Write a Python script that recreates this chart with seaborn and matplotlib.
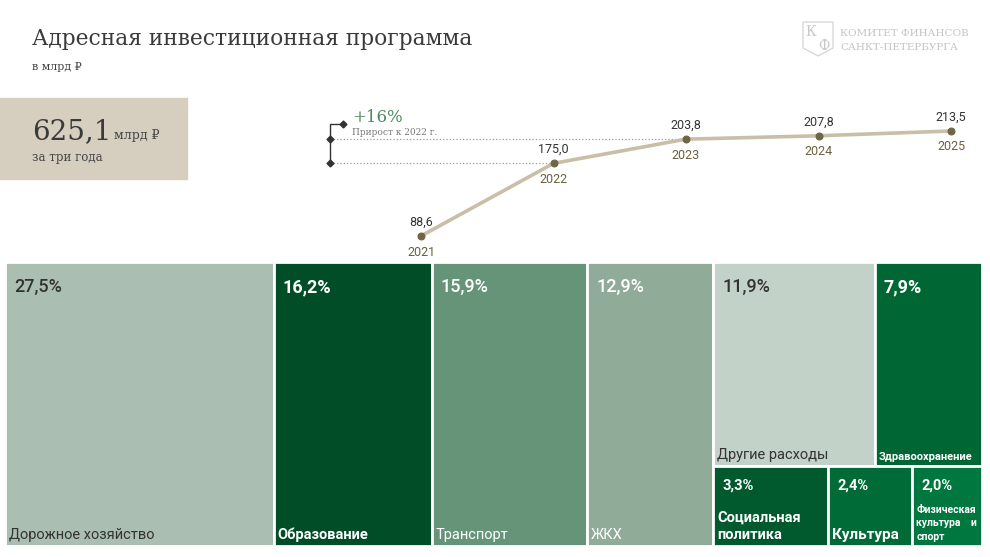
import matplotlib
matplotlib.use("Agg")
import numpy as np
import pandas as pd
import seaborn as sns
import matplotlib.pyplot as plt
from matplotlib.patches import Rectangle, Polygon

# ---------------- data ----------------
years = [2021, 2022, 2023, 2024, 2025]
values = [88.6, 175.0, 203.8, 207.8, 213.5]
value_labels = ["88,6", "175,0", "203,8", "207,8", "213,5"]

sectors = ["Дорожное хозяйство", "Образование", "Транспорт", "ЖКХ",
           "Другие расходы", "Здравоохранение",
           "Социальная\nполитика", "Культура", "Физическая\nкультура    и\nспорт"]
shares = [27.5, 16.2, 15.9, 12.9, 11.9, 7.9, 3.3, 2.4, 2.0]
share_labels = ["27,5%", "16,2%", "15,9%", "12,9%", "11,9%", "7,9%", "3,3%", "2,4%", "2,0%"]
sector_colors = ["#aabfb1", "#004d27", "#669479", "#90ab97", "#c3d2c8",
                 "#006633", "#005a2e", "#006b37", "#00773e"]
text_colors = ["#333333", "white", "white", "white", "#333333",
               "white", "white", "white", "white"]

total_value = "625,1"
base_year_value = 175.0
compare_value = 203.8

W, H = 990, 557
sns.set_theme(style="white")
plt.rcParams["font.family"] = ["Roboto", "DejaVu Sans"]
SERIF = ["DejaVu Serif", "DejaVu Sans"]

fig = plt.figure(figsize=(W / 100, H / 100), dpi=100)
fig.patch.set_facecolor("white")


def px(x, y):
    return x / W, 1 - y / H


# ---------------- header ----------------
fig.text(*px(32, 39), "Адресная инвестиционная программа", family=SERIF,
         fontsize=15.7, color="#3a3a3a", va="center", ha="left")
fig.text(*px(32, 67), "в млрд ₽", family=SERIF, fontsize=8, color="#444444",
         va="center", ha="left")

# logo
lx, ly = 803, 22
shield = Polygon([px(lx, ly), px(lx + 30, ly), px(lx + 30, ly + 26),
                  px(lx + 15, ly + 34), px(lx, ly + 26)], closed=True,
                 transform=fig.transFigure, fill=False, edgecolor="#d0d0d0", lw=0.8)
fig.patches.append(shield)
fig.text(*px(lx + 8, ly + 10), "К", family=SERIF, fontsize=10, color="#c8c8c8",
         ha="center", va="center")
fig.text(*px(lx + 21, ly + 24), "Ф", family=SERIF, fontsize=10, color="#c8c8c8",
         ha="center", va="center")
fig.text(*px(840, 34), "КОМИТЕТ ФИНАНСОВ", family=SERIF, fontsize=7.5,
         color="#c4c4c4", va="center")
fig.text(*px(840, 47), "САНКТ-ПЕТЕРБУРГА", family=SERIF, fontsize=7.5,
         color="#c4c4c4", va="center")

# KPI box
fig.patches.append(Rectangle(px(0, 179), 187 / W, 81 / H, transform=fig.transFigure,
                             color="#d6cfbf", zorder=0))
fig.text(*px(32, 132), total_value, family=SERIF, fontsize=20, color="#3a3a3a",
         va="center", ha="left")
fig.text(*px(114, 136), "млрд ₽", family=SERIF, fontsize=9, color="#444444",
         va="center", ha="left")
fig.text(*px(32, 157), "за три года", family=SERIF, fontsize=8.5, color="#444444",
         va="center", ha="left")

# ---------------- line chart ----------------
x0p, x1p = 421, 951
y0p, y1p = 236, 131
axl = fig.add_axes([x0p / W, 1 - y0p / H, (x1p - x0p) / W, (y0p - y1p) / H])
axl.set_xlim(years[0], years[-1])
axl.set_ylim(values[0], values[-1])
axl.axis("off")

df = pd.DataFrame({"year": years, "value": values})
sns.lineplot(data=df, x="year", y="value", ax=axl, color="#c9bea7", linewidth=2.6,
             marker="o", markersize=5, markerfacecolor="#6f6547",
             markeredgecolor="#6f6547", zorder=3)
for ln in axl.lines:
    ln.set_clip_on(False)

for yr, v, lab in zip(years, values, value_labels):
    axl.annotate(lab, (yr, v), xytext=(0, 14), textcoords="offset pixels",
                 ha="center", va="center", fontsize=9, color="#333333")
    axl.annotate(str(yr), (yr, v), xytext=(0, -16), textcoords="offset pixels",
                 ha="center", va="center", fontsize=9, color="#6b6040")

# bracket annotation
px_per_year = (x1p - x0p) / (years[-1] - years[0])
px_per_unit = (y0p - y1p) / (values[-1] - values[0])
x_br = years[0] + (330 - x0p) / px_per_year
y_top = values[0] + (y0p - 124) / px_per_unit
axl.plot([x_br, years[2]], [compare_value, compare_value], ls=":", color="#9a9a9a",
         lw=0.9, clip_on=False, zorder=1)
axl.plot([x_br, years[1]], [base_year_value, base_year_value], ls=":", color="#9a9a9a",
         lw=0.9, clip_on=False, zorder=1)
axl.plot([x_br, x_br, x_br + 13 / px_per_year], [base_year_value, y_top, y_top],
         color="#333333", lw=1, clip_on=False)
axl.plot([x_br, x_br, x_br + 13 / px_per_year],
         [base_year_value, compare_value, y_top], ls="none", marker="D",
         markersize=3.5, color="#333333", clip_on=False)
growth = (compare_value / base_year_value - 1) * 100
fig.text(*px(352, 117), f"+{growth:.0f}%", family=SERIF, fontsize=12,
         color="#4f8a5c", va="center", ha="left")
fig.text(*px(352, 133), "Прирост к 2022 г.", family=SERIF, fontsize=6.5,
         color="#777777", va="center", ha="left")

# ---------------- treemap ----------------
axt = fig.add_axes([5 / W, 1 - 546 / H, 977 / W, 284 / H])
axt.set_xlim(0, 100)
axt.set_ylim(0, 100)
axt.axis("off")

lefts, bottoms, widths, heights = [], [], [], []
x = 0.0
for s in shares[:4]:
    lefts.append(x); bottoms.append(0); widths.append(s); heights.append(100)
    x += s
col_w = sum(shares[4:])
top_sum = sum(shares[4:6])
bot_sum = sum(shares[6:])
top_h = top_sum / col_w * 100
xx = x
for s in shares[4:6]:
    w = s / top_sum * col_w
    lefts.append(xx); bottoms.append(100 - top_h); widths.append(w); heights.append(top_h)
    xx += w
xx = x
for s in shares[6:]:
    w = s / bot_sum * col_w
    lefts.append(xx); bottoms.append(0); widths.append(w); heights.append(100 - top_h)
    xx += w

axt.bar(lefts, heights, width=widths, bottom=bottoms, align="edge",
        color=sector_colors, edgecolor="white", linewidth=2)

pct_size = [13, 13, 13, 13, 13, 13, 10.5, 10.5, 10.5]
pct_weight = ["medium", "bold", "medium", "medium", "medium", "bold", "bold", "bold", "bold"]
pct_off = [-25, -25, -25, -25, -25, -25, -19, -19, -19]
name_size = [10.5, 10.5, 10.5, 10.5, 10.5, 8, 10.5, 11, 7.5]
name_weight = ["normal", "bold", "normal", "normal", "normal", "bold", "bold", "bold", "bold"]
name_ls = [1.1, 1.1, 1.1, 1.1, 1.1, 1.1, 1.3, 1.1, 1.45]
for i in range(len(shares)):
    l, b, w, h = lefts[i], bottoms[i], widths[i], heights[i]
    axt.annotate(share_labels[i], (l, b + h), xytext=(9, pct_off[i]),
                 textcoords="offset pixels", ha="left", va="center",
                 fontsize=pct_size[i], fontweight=pct_weight[i], color=text_colors[i])
    axt.annotate(sectors[i], (l, b), xytext=(4, 4), textcoords="offset pixels",
                 ha="left", va="bottom", fontsize=name_size[i],
                 fontweight=name_weight[i], color=text_colors[i],
                 linespacing=name_ls[i])

fig.savefig("out.png", dpi=100, facecolor="white")
